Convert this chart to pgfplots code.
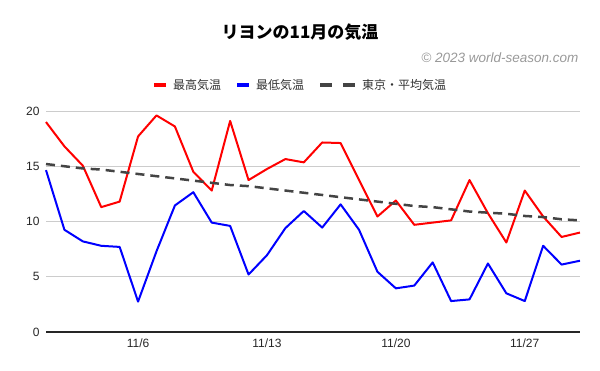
\documentclass[border=0pt]{standalone}
\usepackage{pgfplots}
\pgfplotsset{compat=1.18}
\usepackage{fontspec}
\setmainfont{Liberation Sans}
\newfontfamily\cjk{Noto Sans CJK JP}
\definecolor{tokyo}{HTML}{444444}
\definecolor{gridc}{HTML}{CCCCCC}
\begin{document}
\begin{tikzpicture}
\useasboundingbox (0pt,0pt) rectangle (600pt,371pt);
\node[font=\cjk\bfseries\fontsize{17}{20}\selectfont] at (300pt,339pt) {リヨンの11月の気温};
\node[anchor=east, text=black!40, font=\itshape\fontsize{13.5}{16}\selectfont] at (582pt,313pt) {© 2023 world-season.com};
\begin{axis}[
  at={(46pt,39pt)}, anchor=south west,
  scale only axis, width=534pt, height=221pt,
  xmin=1, xmax=30, ymin=0, ymax=20,
  ytick={5,10,15,20},
  extra y ticks={0},
  extra y tick style={grid style={draw=black!85, line width=1.2pt}},
  xtick={6,13,20,27},
  xticklabels={11/6,11/13,11/20,11/27},
  ymajorgrids, grid style={draw=gridc, line width=0.8pt},
  axis line style={draw=none},
  major tick length=0pt,
  tick label style={font=\fontsize{12}{14}\selectfont, text=black!85},
  /pgf/number format/assume math mode=true,
  yticklabel style={xshift=-3pt},
  xticklabel style={yshift=-3pt},
  legend columns=3,
  legend style={draw=none, fill=none, at={(0.476,1.118)}, anchor=center,
    font=\cjk\fontsize{12}{14}\selectfont, text=black!80,
    /tikz/every even column/.append style={column sep=12pt}},
  clip=false,
]
\addplot[red, line width=2pt, line join=round,
  legend image code/.code={\draw[red, solid, line width=4pt] (0pt,0pt) -- (12pt,0pt); \path[draw=none] (0pt,0pt) -- (17pt,0pt);}] coordinates {
(1,19.0) (2,16.8) (3,15.05) (4,11.3) (5,11.8) (6,17.7) (7,19.6) (8,18.6) (9,14.5) (10,12.8)
(11,19.1) (12,13.75) (13,14.75) (14,15.65) (15,15.35) (16,17.15) (17,17.1) (18,13.75) (19,10.45) (20,11.9)
(21,9.7) (22,9.9) (23,10.1) (24,13.75) (25,10.75) (26,8.1) (27,12.8) (28,10.45) (29,8.6) (30,9.0)};
\addlegendentry{最高気温}
\addplot[blue, line width=2pt, line join=round,
  legend image code/.code={\draw[blue, solid, line width=4pt] (0pt,0pt) -- (12pt,0pt); \path[draw=none] (0pt,0pt) -- (17pt,0pt);}] coordinates {
(1,14.65) (2,9.25) (3,8.2) (4,7.8) (5,7.7) (6,2.75) (7,7.3) (8,11.45) (9,12.65) (10,9.9)
(11,9.6) (12,5.2) (13,6.95) (14,9.4) (15,10.95) (16,9.45) (17,11.55) (18,9.25) (19,5.45) (20,3.95)
(21,4.2) (22,6.3) (23,2.8) (24,2.95) (25,6.2) (26,3.5) (27,2.8) (28,7.8) (29,6.1) (30,6.45)};
\addlegendentry{最低気温}
\addplot[tokyo, line width=2.5pt, dash pattern=on 9pt off 6pt,
  legend image code/.code={\draw[tokyo, solid, line width=4pt] (0pt,0pt) -- (12pt,0pt) (23pt,0pt) -- (35pt,0pt); \path[draw=none] (0pt,0pt) -- (40pt,0pt);}] coordinates {
(1,15.2) (2,15.0) (3,14.8) (4,14.7) (5,14.5) (6,14.3) (7,14.1) (8,13.9) (9,13.7) (10,13.5)
(11,13.3) (12,13.2) (13,13.0) (14,12.8) (15,12.6) (16,12.4) (17,12.2) (18,12.0) (19,11.8) (20,11.6)
(21,11.4) (22,11.3) (23,11.1) (24,10.9) (25,10.8) (26,10.7) (27,10.5) (28,10.4) (29,10.2) (30,10.1)};
\addlegendentry{東京・平均気温}
\end{axis}
\end{tikzpicture}
\end{document}
